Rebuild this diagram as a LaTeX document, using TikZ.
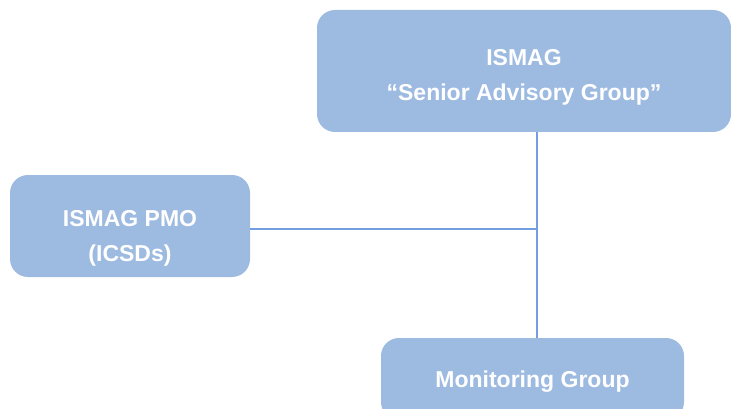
\documentclass[tikz,border=0pt]{standalone}
\usepackage{fontspec}
\setmainfont{Liberation Sans}
\definecolor{boxfill}{RGB}{157,186,225}
\definecolor{linkline}{RGB}{115,158,226}

\begin{document}
\begin{tikzpicture}[x=1pt,y=-1pt]
            \tikzstyle{every node}+=[inner sep=0pt]
            \tikzstyle{orgbox}=[fill=boxfill, rounded corners=18pt, text=white, align=center,
                                font=\fontsize{23}{35}\selectfont\bfseries]
            \clip (0,0) rectangle (731,409);
            \node [orgbox, minimum width=414pt, minimum height=122pt, text height=64pt] (sag) at (524,71) {ISMAG\\“Senior Advisory Group”};
            \node [orgbox, minimum width=240pt, minimum height=102pt, text height=76pt] (pmo) at (130,226) {ISMAG PMO\\(ICSDs)};
            \node [orgbox, minimum width=303pt, minimum height=82pt, text height=22pt] (mon) at (532.5,379) {Monitoring Group};
            \coordinate (jn) at (537,229);
            \draw [draw=linkline, line width=1.2pt] (jn |- sag.south) -- (jn |- mon.north);
            \draw [draw=linkline, line width=1.2pt] (jn -| pmo.east) -- (jn);
\end{tikzpicture}
\end{document}
